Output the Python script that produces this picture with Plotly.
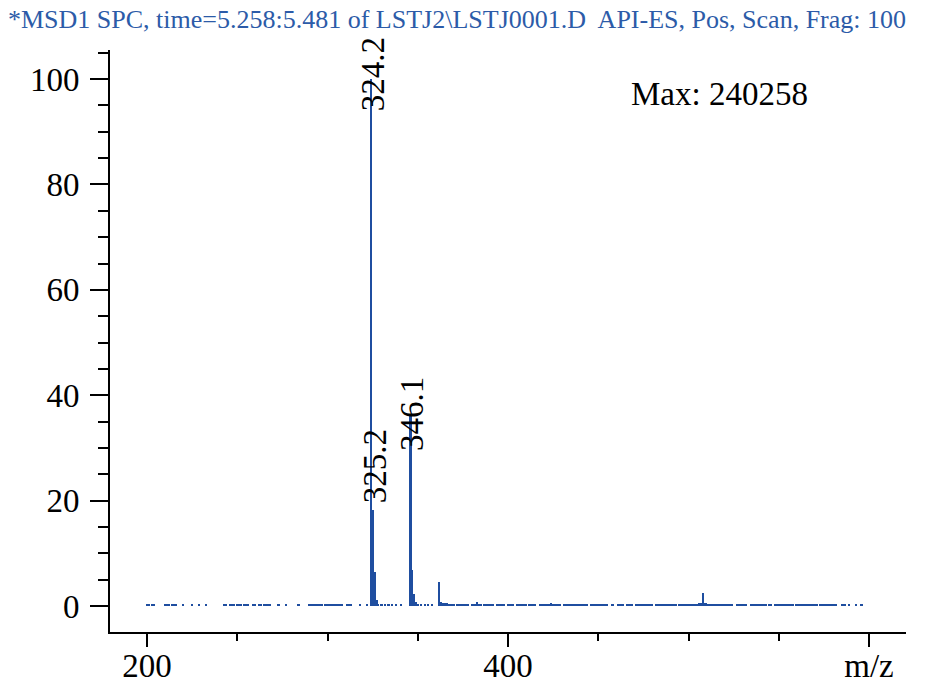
"""
    Mass spectrum (API-ES, positive scan) redrawn with plotly
"""
import plotly.graph_objects as go

TITLE = "*MSD1 SPC, time=5.258:5.481 of LSTJ2\\LSTJ0001.D  API-ES, Pos, Scan, Frag: 100"
MAX_TEXT = "Max: 240258"

# main ions (m/z, relative abundance %)
peak_mz = [324.2, 325.2, 326.2, 327.2, 346.1, 347.1, 348.1, 349.1,
           362.0, 363.0, 364.0, 383.0, 508.0, 509.0]
peak_int = [100.0, 18.2, 6.5, 1.2, 36.0, 6.8, 2.4, 0.8,
            4.6, 0.8, 0.6, 0.7, 2.5, 0.6]

# labelled peaks
label_mz = [324.2, 325.2, 346.1]
label_text = ["324.2", "325.2", "346.1"]

# baseline noise
noise_mz = [200, 201, 203, 204, 210, 211, 212, 214, 215, 216, 220, 225,
            229, 233, 243, 244, 246, 247, 248, 250, 251, 252, 254, 255,
            256, 259, 260, 262, 263, 265, 266, 267, 268, 273, 277, 284,
            290, 291, 292, 293, 294, 295, 296, 297, 299, 300, 301, 302,
            303, 304, 305, 306, 307, 308, 311, 312, 313, 318, 322, 328,
            330, 332, 334, 336, 338, 341, 350, 352, 354, 356, 358, 365,
            366, 367, 368, 369, 370, 372, 373, 374, 375, 376, 377, 378,
            380, 381, 382, 384, 385, 387, 388, 389, 390, 391, 392, 394,
            395, 396, 397, 398, 400, 401, 402, 403, 405, 406, 407, 408,
            409, 410, 412, 413, 414, 415, 418, 419, 420, 421, 422, 423,
            424, 425, 426, 427, 428, 429, 431, 432, 433, 434, 435, 436,
            437, 438, 439, 440, 441, 442, 443, 444, 446, 447, 448, 449,
            450, 451, 452, 453, 454, 455, 458, 461, 462, 463, 464, 466,
            467, 468, 469, 471, 472, 473, 474, 475, 476, 477, 478, 479,
            480, 482, 483, 484, 485, 486, 487, 488, 489, 490, 491, 492,
            493, 495, 496, 497, 498, 499, 500, 501, 502, 503, 504, 505,
            506, 507, 510, 511, 512, 513, 514, 515, 516, 517, 518, 519,
            520, 521, 522, 523, 524, 527, 528, 529, 530, 531, 532, 535,
            536, 537, 538, 539, 540, 541, 542, 543, 545, 546, 548, 549,
            550, 551, 552, 553, 554, 555, 556, 557, 558, 560, 561, 562,
            563, 564, 565, 566, 567, 568, 569, 570, 571, 573, 574, 575,
            576, 577, 578, 579, 580, 581, 582, 585, 586, 587, 589, 593,
            596]
noise_int = [0.5, 0.5, 0.5, 0.5, 0.5, 0.5, 0.5, 0.5, 0.5, 0.5, 0.5, 0.5,
             0.5, 0.5, 0.5, 0.5, 0.5, 0.5, 0.5, 0.5, 0.5, 0.5, 0.5, 0.5,
             0.5, 0.5, 0.5, 0.5, 0.5, 0.5, 0.5, 0.5, 0.5, 0.5, 0.5, 0.5,
             0.5, 0.5, 0.5, 0.5, 0.5, 0.5, 0.5, 0.5, 0.5, 0.5, 0.5, 0.5,
             0.5, 0.5, 0.5, 0.5, 0.5, 0.5, 0.5, 0.5, 0.5, 0.5, 0.5, 0.5,
             0.5, 0.5, 0.5, 0.5, 0.5, 0.5, 0.5, 0.5, 0.5, 0.5, 0.5, 0.6,
             0.6, 0.5, 0.5, 0.5, 0.5, 0.5, 0.5, 0.5, 0.5, 0.5, 0.5, 0.5,
             0.5, 0.5, 0.5, 0.5, 0.5, 0.5, 0.5, 0.5, 0.5, 0.5, 0.5, 0.5,
             0.5, 0.5, 0.5, 0.5, 0.5, 0.5, 0.5, 0.5, 0.5, 0.5, 0.5, 0.5,
             0.5, 0.5, 0.5, 0.5, 0.5, 0.5, 0.5, 0.5, 0.5, 0.5, 0.5, 0.5,
             0.6, 0.5, 0.5, 0.5, 0.5, 0.5, 0.5, 0.5, 0.5, 0.5, 0.5, 0.5,
             0.5, 0.5, 0.5, 0.5, 0.5, 0.5, 0.5, 0.5, 0.5, 0.5, 0.5, 0.5,
             0.5, 0.5, 0.5, 0.5, 0.5, 0.5, 0.5, 0.5, 0.5, 0.5, 0.5, 0.5,
             0.5, 0.5, 0.5, 0.5, 0.5, 0.5, 0.5, 0.5, 0.5, 0.5, 0.5, 0.5,
             0.5, 0.5, 0.5, 0.5, 0.5, 0.5, 0.5, 0.5, 0.5, 0.5, 0.5, 0.5,
             0.5, 0.5, 0.5, 0.5, 0.5, 0.5, 0.5, 0.5, 0.5, 0.5, 0.5, 0.5,
             0.6, 0.6, 0.6, 0.5, 0.5, 0.5, 0.5, 0.5, 0.5, 0.5, 0.5, 0.5,
             0.5, 0.5, 0.5, 0.5, 0.5, 0.5, 0.5, 0.5, 0.5, 0.5, 0.5, 0.5,
             0.5, 0.5, 0.5, 0.5, 0.5, 0.5, 0.5, 0.5, 0.5, 0.5, 0.5, 0.5,
             0.5, 0.5, 0.5, 0.5, 0.5, 0.5, 0.5, 0.5, 0.5, 0.5, 0.5, 0.5,
             0.5, 0.5, 0.5, 0.5, 0.5, 0.5, 0.5, 0.5, 0.5, 0.5, 0.5, 0.5,
             0.5, 0.5, 0.5, 0.5, 0.5, 0.5, 0.5, 0.5, 0.5, 0.5, 0.5, 0.5,
             0.5]

x_tickvals = [200, 400, 600]
x_ticktext = ["200", "400", "m/z"]

BLUE = "#1f4ea0"
FONT = "Liberation Serif"

mz = noise_mz + peak_mz
inten = noise_int + peak_int

fig = go.Figure()
fig.add_trace(go.Bar(x=mz, y=inten, width=1.0,
                     marker=dict(color=BLUE, line=dict(width=0)),
                     showlegend=False))

# peak labels, rotated like the instrument printout
label_shift = {"324.2": (2, 5), "325.2": (2, 44), "346.1": (2, 2)}
for m, t in zip(label_mz, label_text):
    y = peak_int[peak_mz.index(m)]
    dx, dy = label_shift[t]
    fig.add_annotation(x=m, y=y, text=t, textangle=-90, showarrow=False,
                       xanchor="center", yanchor="middle",
                       xshift=dx, yshift=dy,
                       font=dict(family=FONT, size=33, color="black"))

fig.add_annotation(x=0.766, y=0.925, xref="paper", yref="paper",
                   xanchor="center", yanchor="middle",
                   text=MAX_TEXT, showarrow=False,
                   font=dict(family=FONT, size=33, color="black"))

# the page body adds an 8px margin, so the figure is a bit smaller
fig.update_layout(
    width=926, height=678,
    margin=dict(l=102, r=28, t=42, b=54),
    paper_bgcolor="white", plot_bgcolor="white",
    font=dict(family=FONT, size=33, color="black"),
    title=dict(text=TITLE, x=0.0, xref="container", xanchor="left",
               y=0.984, yref="container", yanchor="middle",
               font=dict(family=FONT, size=26, color="#2c5ba8")),
    bargap=0,
    xaxis=dict(range=[179.5, 620.5], showgrid=False, zeroline=False,
               automargin=False,
               showline=True, linecolor="black", linewidth=2,
               tickmode="array", tickvals=x_tickvals, ticktext=x_ticktext,
               ticks="outside", ticklen=13, tickwidth=2, tickcolor="black",
               ticklabelstandoff=-10,
               minor=dict(dtick=50, tick0=0, ticks="outside", ticklen=7,
                          tickwidth=2, tickcolor="black", showgrid=False)),
    yaxis=dict(range=[-4.9, 105.5], showgrid=False, zeroline=False,
               automargin=False,
               showline=True, linecolor="black", linewidth=2,
               tickmode="linear", tick0=0, dtick=20,
               ticks="outside", ticklen=18, tickwidth=2, tickcolor="black",
               ticklabelstandoff=4,
               minor=dict(dtick=5, tick0=0, ticks="outside", ticklen=10,
                          tickwidth=2, tickcolor="black", showgrid=False)),
)

fig.write_html("out.html")
